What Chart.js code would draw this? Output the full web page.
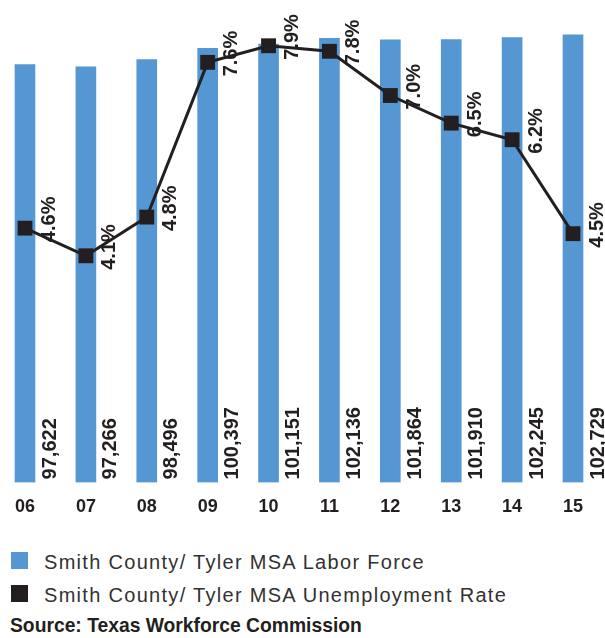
<!DOCTYPE html>
<html>
<head>
<meta charset="utf-8">
<script src="https://cdn.jsdelivr.net/npm/chart.js@4.4.1/dist/chart.umd.min.js"></script>
<style>
  html, body { margin: 0; padding: 0; background: #ffffff; }
  body { width: 605px; height: 638px; position: relative; overflow: hidden; font-family: "Liberation Sans", Arial, sans-serif; }
  #wrap { position: absolute; left: 0; top: 0; width: 605px; height: 532px; }
  .leg { position: absolute; left: 44px; font-size: 20px; line-height: 20px; letter-spacing: 1.3px; color: #333132; white-space: nowrap; }
  .sq { position: absolute; left: 11px; width: 17px; height: 17px; }
  #src { position: absolute; left: 10px; top: 616px; font-size: 19.3px; line-height: 20px; font-weight: bold; color: #231f20; white-space: nowrap; }
</style>
</head>
<body>
<div id="wrap"><canvas id="c" width="605" height="532"></canvas></div>
<div class="sq" style="top:552px;background:#5597d3;"></div>
<div class="leg" style="top:552px;">Smith County/ Tyler MSA Labor Force</div>
<div class="sq" style="top:585px;background:#231f20;"></div>
<div class="leg" style="top:585px;">Smith County/ Tyler MSA Unemployment Rate</div>
<div id="src">Source: Texas Workforce Commission</div>
<script>
const years = ['06', '07', '08', '09', '10', '11', '12', '13', '14', '15'];
const laborForce = [97622, 97266, 98496, 100397, 101151, 102136, 101864, 101910, 102245, 102729];
const unemploymentRate = [4.6, 4.1, 4.8, 7.6, 7.9, 7.8, 7.0, 6.5, 6.2, 4.5];

const barColor = '#5597d3';
const inkColor = '#231f20';
const barAxisMin = 26100;
const barAxisMax = 105263;

const rotatedLabels = {
  id: 'rotatedLabels',
  afterDatasetsDraw(chart) {
    const ctx = chart.ctx;
    const bottom = chart.chartArea.bottom;
    ctx.save();
    ctx.fillStyle = inkColor;
    ctx.font = 'bold 20px "Liberation Sans", Arial, sans-serif';
    ctx.textAlign = 'left';
    ctx.textBaseline = 'middle';
    // bar value labels
    const barMeta = chart.getDatasetMeta(0);
    barMeta.data.forEach((el, i) => {
      const txt = laborForce[i].toLocaleString('en-US');
      ctx.save();
      ctx.translate(el.x + 25, bottom - 3);
      ctx.rotate(-Math.PI / 2);
      ctx.fillText(txt, 0, 0);
      ctx.restore();
    });
    // rate labels
    const lineMeta = chart.getDatasetMeta(1);
    lineMeta.data.forEach((el, i) => {
      const txt = unemploymentRate[i].toFixed(1) + '%';
      ctx.save();
      ctx.translate(el.x + 24, el.y + 14);
      ctx.rotate(-Math.PI / 2);
      ctx.fillText(txt, 0, 0);
      ctx.restore();
    });
    ctx.restore();
  }
};

new Chart(document.getElementById('c'), {
  type: 'bar',
  data: {
    labels: years,
    datasets: [
      {
        type: 'bar',
        label: 'Smith County/ Tyler MSA Labor Force',
        data: laborForce,
        backgroundColor: barColor,
        borderWidth: 0,
        barThickness: 20,
        base: barAxisMin,
        yAxisID: 'y',
        clip: { left: false, top: false, right: false, bottom: 0 },
        order: 2
      },
      {
        type: 'line',
        label: 'Smith County/ Tyler MSA Unemployment Rate',
        data: unemploymentRate,
        borderColor: inkColor,
        borderWidth: 3,
        backgroundColor: inkColor,
        pointStyle: 'rect',
        pointRadius: 10.5,
        pointBorderWidth: 0,
        pointBackgroundColor: inkColor,
        tension: 0,
        yAxisID: 'y1',
        clip: false,
        order: 1
      }
    ]
  },
  options: {
    responsive: false,
    animation: false,
    events: [],
    layout: { padding: { left: 25, right: 32, top: 20, bottom: 0 } },
    plugins: { legend: { display: false }, tooltip: { enabled: false } },
    scales: {
      x: {
        offset: false,
        grid: { display: false, drawTicks: false },
        border: { display: false },
        ticks: {
          color: inkColor,
          font: { family: '"Liberation Sans", Arial, sans-serif', size: 18, weight: 'bold' },
          padding: 14,
          maxRotation: 0,
          autoSkip: false
        }
      },
      y: {
        display: false,
        min: barAxisMin,
        max: barAxisMax
      },
      y1: {
        display: false,
        position: 'right',
        min: 0,
        max: 8.366
      }
    }
  },
  plugins: [rotatedLabels]
});
</script>
</body>
</html>
